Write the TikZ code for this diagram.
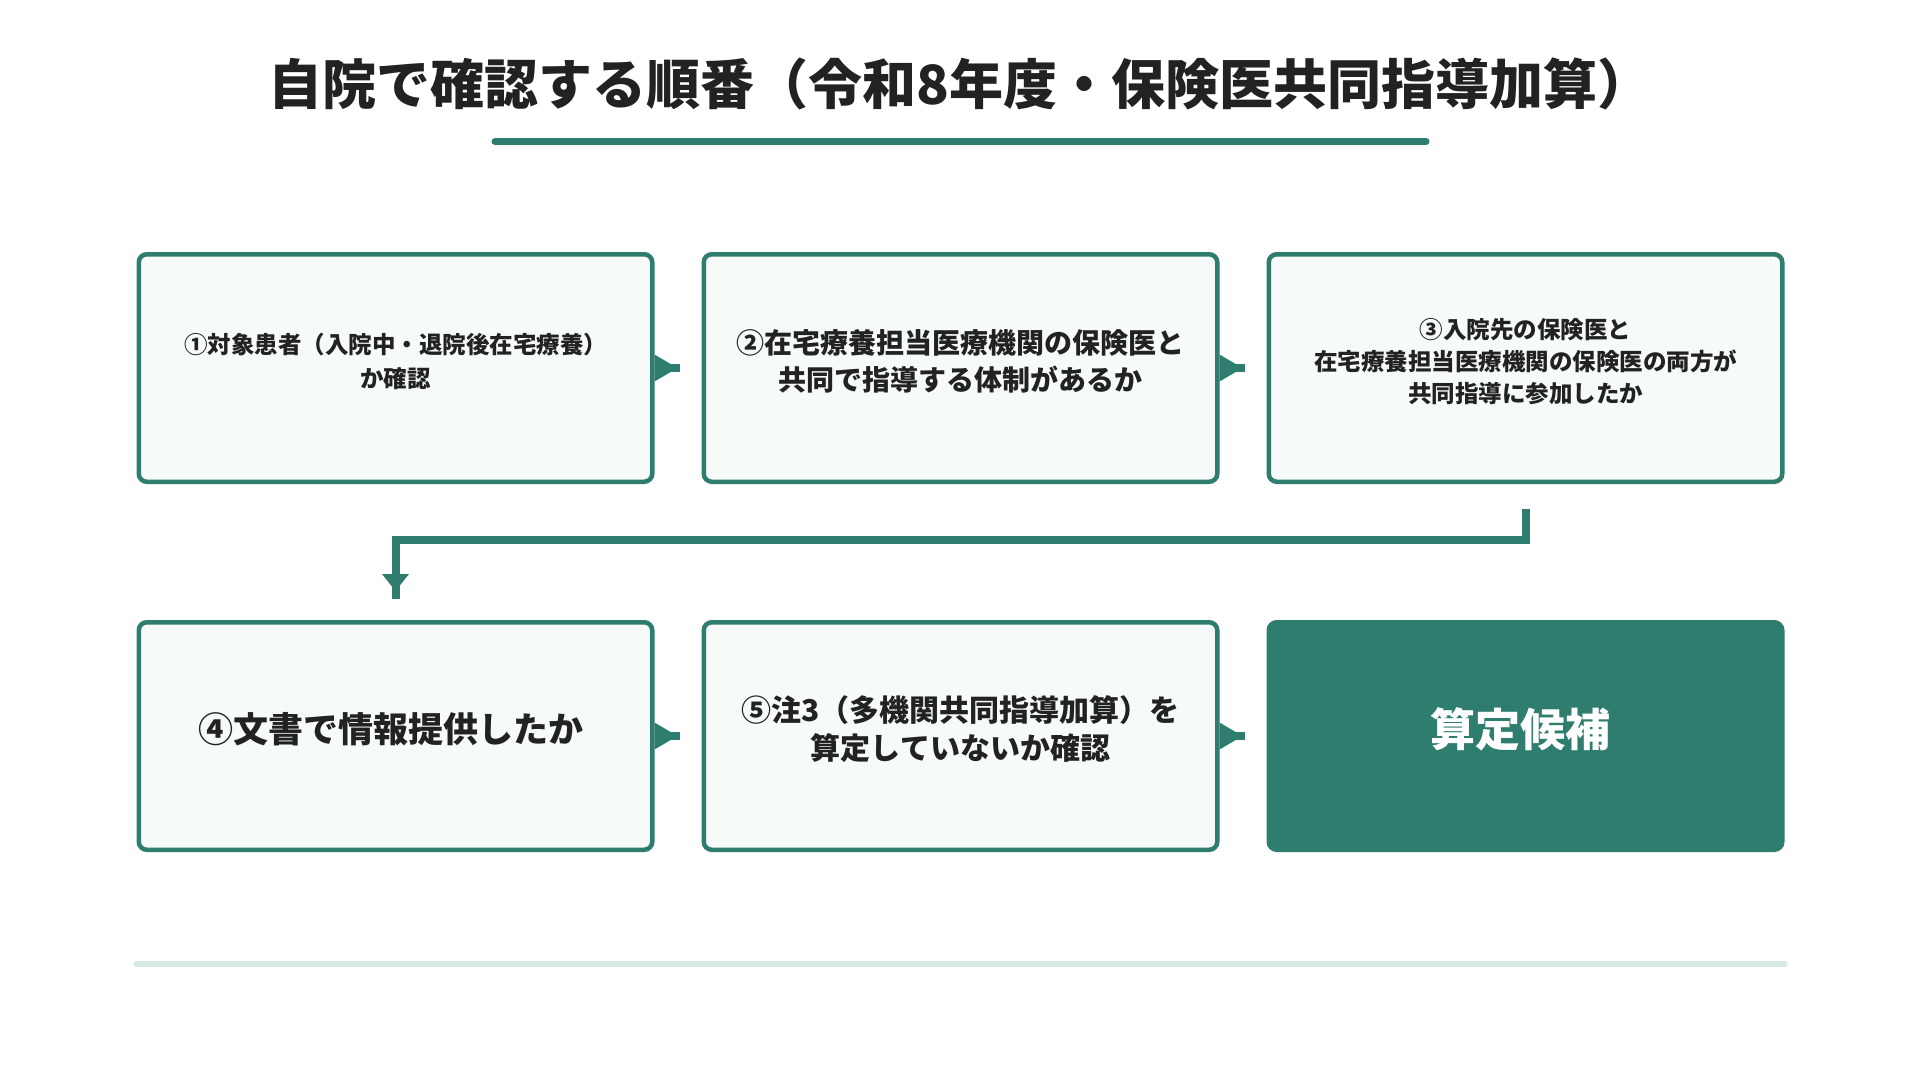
\documentclass[tikz,border=0pt]{standalone}
\usepackage{fontspec}
\setmainfont{Noto Sans CJK JP}
\usetikzlibrary{positioning}
\usetikzlibrary{arrows.meta}
\definecolor{kgreen}{HTML}{2E7D6F}
\definecolor{kpale}{HTML}{F6FAF9}
\definecolor{kline}{HTML}{D6EAE4}
\definecolor{ktext}{HTML}{222222}
\tikzset{node distance=136pt and 47pt, % gap between rows and between boxes
  every node/.style={align=center, text=ktext},
         stepbox/.style={ % Sets the properties for each check box
           draw=kgreen, line width=4.5pt,
           fill=kpale, rounded corners=8pt,
           minimum width=513.5pt, minimum height=227.5pt,
           inner sep=0pt,
           execute at end node={\rule[\dimexpr-13pt-.12em\relax]{0pt}{0pt}}}, % text sits a bit high
         goalbox/.style={stepbox, fill=kgreen, text=white},
         flow/.style={ % Sets the properties for each connector
           draw=kgreen, line width=8pt,
           -{Triangle[length=#1,width=27pt,line width=0pt 0 0]}},
         flow/.default=23pt,
         stub/.style={postaction={draw, -, shorten >=#1}},
         rule/.style={line width=#1, line cap=round}}

\begin{document}
\begin{tikzpicture}[x=1pt,y=-1pt]
  \useasboundingbox [fill=white] (0,0) rectangle (1920,1080);

  \node [font=\fontsize{54pt}{60pt}\selectfont\bfseries] (title) at (960,84)
    {自院で確認する順番（令和8年度・保険医共同指導加算）};
  \draw [kgreen, rule=7pt] (495,141.5) -- (1426,141.5);

  \node [stepbox, font=\fontsize{23.5pt}{34pt}\selectfont\bfseries] (s1) at (395.5,368) {
    ①対象患者（入院中・退院後在宅療養）\\
    か確認
  };
  \node [stepbox, right=of s1, font=\fontsize{28pt}{37pt}\selectfont\bfseries] (s2) {
    ②在宅療養担当医療機関の保険医と\\
    共同で指導する体制があるか
  };
  \node [stepbox, right=of s2, font=\fontsize{23.5pt}{32pt}\selectfont\bfseries] (s3) {
    ③入院先の保険医と\\
    在宅療養担当医療機関の保険医の両方が\\
    共同指導に参加したか
  };
  \node [stepbox, below=of s1, font=\fontsize{35pt}{42pt}\selectfont\bfseries] (s4) {
    ④文書で情報提供したか
  };
  \node [stepbox, right=of s4, font=\fontsize{30pt}{38pt}\selectfont\bfseries] (s5) {
    ⑤注3（多機関共同指導加算）を\\
    算定していないか確認
  };
  \node [goalbox, right=of s5, font=\fontsize{45pt}{52pt}\selectfont\bfseries] (goal) {
    算定候補
  };

  \draw [flow, shorten >=24pt, stub=22pt] (s1) -- (s2);
  \draw [flow, shorten >=24pt, stub=22pt] (s2) -- (s3);
  \draw [flow=17pt, shorten <=25pt, shorten >=29pt, stub=21pt]
    (s3.south) -- ++(0,56) -| (s4.north);
  \draw [flow, shorten >=24pt, stub=22pt] (s4) -- (s5);
  \draw [flow, shorten >=24pt, stub=22pt] (s5) -- (goal);

  \draw [kline, rule=6pt] (s4.south west |- 0,964) -- (goal.south east |- 0,964);
\end{tikzpicture}
\end{document}
